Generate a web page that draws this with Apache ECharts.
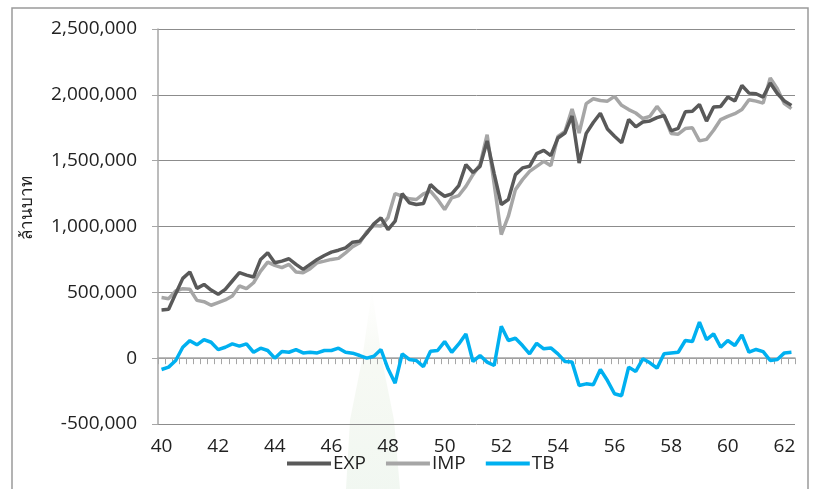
<!DOCTYPE html>
<html>
<head>
<meta charset="utf-8">
<script src="https://cdn.jsdelivr.net/npm/echarts@6/dist/echarts.min.js"></script>
<style>
html,body{margin:0;padding:0;background:#fff;}
#chart{width:813px;height:489px;}
</style>
</head>
<body>
<div id="chart"></div>
<script>
// Quarterly categories (Thai fiscal years 40 - 62)
const categories = [
 '40Q1','40Q2','40Q3','40Q4','41Q1','41Q2','41Q3','41Q4','42Q1','42Q2','42Q3','42Q4',
 '43Q1','43Q2','43Q3','43Q4','44Q1','44Q2','44Q3','44Q4','45Q1','45Q2','45Q3','45Q4',
 '46Q1','46Q2','46Q3','46Q4','47Q1','47Q2','47Q3','47Q4','48Q1','48Q2','48Q3','48Q4',
 '49Q1','49Q2','49Q3','49Q4','50Q1','50Q2','50Q3','50Q4','51Q1','51Q2','51Q3','51Q4',
 '52Q1','52Q2','52Q3','52Q4','53Q1','53Q2','53Q3','53Q4','54Q1','54Q2','54Q3','54Q4',
 '55Q1','55Q2','55Q3','55Q4','56Q1','56Q2','56Q3','56Q4','57Q1','57Q2','57Q3','57Q4',
 '58Q1','58Q2','58Q3','58Q4','59Q1','59Q2','59Q3','59Q4','60Q1','60Q2','60Q3','60Q4',
 '61Q1','61Q2','61Q3','61Q4','62Q1','62Q2'
];
const EXP = [
 366000,371000,490000,606000,655000,530000,560000,517000,485000,523000,586000,649000,
 631000,616000,750000,800000,725000,737000,755000,712000,674000,712000,750000,780000,
 805000,820000,838000,881000,889000,950000,1020000,1065000,977000,1040000,1250000,1180000,
 1167000,1174000,1318000,1268000,1230000,1248000,1311000,1470000,1410000,1457000,1650000,1400000,
 1167000,1205000,1394000,1445000,1457000,1553000,1578000,1538000,1672000,1710000,1840000,1482000,
 1707000,1790000,1860000,1740000,1685000,1636000,1812000,1757000,1794000,1802000,1827000,1843000,
 1727000,1746000,1871000,1875000,1927000,1800000,1908000,1912000,1983000,1953000,2071000,2013000,
 2008000,1983000,2090000,2010000,1953000,1920000
];
const IMP = [
 460000,452000,510000,528000,523000,439000,429000,402000,422000,442000,472000,548000,
 528000,573000,661000,730000,705000,687000,712000,654000,649000,680000,725000,737000,
 750000,758000,800000,846000,876000,960000,1008000,1003000,1068000,1250000,1230000,1210000,
 1205000,1248000,1268000,1205000,1129000,1217000,1235000,1305000,1394000,1470000,1697000,1320000,
 939000,1078000,1280000,1356000,1419000,1457000,1495000,1462000,1684000,1722000,1892000,1710000,
 1933000,1970000,1957000,1952000,1988000,1920000,1888000,1862000,1820000,1837000,1912000,1843000,
 1707000,1701000,1744000,1750000,1650000,1662000,1731000,1812000,1837000,1857000,1888000,1963000,
 1952000,1937000,2129000,2046000,1933000,1895000
];
const TB = [
 -86000,-68000,-18000,83000,133000,101000,141000,121000,65000,83000,108000,91000,
 108000,45000,76000,58000,0,50000,45000,65000,40000,45000,40000,58000,
 58000,76000,45000,38000,20000,0,15000,66000,-81000,-190000,33000,-10000,
 -18000,-64000,53000,58000,126000,45000,108000,184000,-25000,20000,-30000,-56000,
 242000,134000,151000,96000,33000,113000,71000,78000,33000,-25000,-30000,-207000,
 -195000,-202000,-86000,-170000,-270000,-285000,-68000,-101000,-5000,-35000,-76000,33000,
 40000,45000,134000,126000,273000,141000,184000,83000,134000,96000,177000,45000,
 66000,50000,-18000,-10000,40000,45000
];
const yTicks = { min: -500000, max: 2500000, interval: 500000 };
const yTitle = 'ล้านบาท';

const font = "'Open Sans', 'Noto Sans', sans-serif";
const chart = echarts.init(document.getElementById('chart'), null, {renderer: 'canvas'});
chart.setOption({
  animation: false,
  backgroundColor: '#ffffff',
  graphic: [
    {type: 'polygon', z: -10, silent: true,
     shape: {points: [[372, 290], [362, 360], [350, 420], [346, 489], [400, 489], [394, 420], [382, 360]]},
     style: {fill: new echarts.graphic.LinearGradient(0, 0, 0, 1, [
       {offset: 0, color: 'rgba(240,244,232,0)'},
       {offset: 0.35, color: 'rgba(236,242,230,0.45)'},
       {offset: 1, color: 'rgba(232,242,232,0.6)'}])}},
    {type: 'rect', z: -5, silent: true,
     shape: {x: 12, y: 8, width: 796, height: 495},
     style: {fill: 'none', stroke: '#9a9a9a', lineWidth: 1.5}},
    {type: 'text', x: 27, y: 208, rotation: Math.PI / 2,
     style: {text: yTitle, fill: '#222', font: "17px 'Noto Sans', 'Open Sans', sans-serif",
             align: 'center', verticalAlign: 'middle'}}
  ],
  grid: {left: 158, right: 18, top: 29, bottom: 65, containLabel: false},
  legend: {
    left: 282, top: 449,
    itemWidth: 44, itemHeight: 4, itemGap: 20,
    icon: 'rect',
    textStyle: {fontFamily: font, fontSize: 19, color: '#222', padding: [0, 0, 0, -3]},
    data: ['EXP', 'IMP', 'TB']
  },
  xAxis: {
    type: 'category',
    data: categories,
    boundaryGap: true,
    axisLine: {onZero: true, lineStyle: {color: '#a6a6a6', width: 1.5}},
    axisTick: {show: true, interval: 0, length: 6, lineStyle: {color: '#a6a6a6'}},
    axisLabel: {
      interval: function (i) { return i % 8 === 0; },
      formatter: function (v) { return v.slice(0, 2); },
      margin: 13, fontFamily: font, fontSize: 19, color: '#222'
    },
    splitLine: {show: false}
  },
  yAxis: {
    type: 'value',
    min: yTicks.min, max: yTicks.max, interval: yTicks.interval,
    axisLine: {show: true, lineStyle: {color: '#a6a6a6', width: 1.5}},
    axisTick: {show: true, length: 6, lineStyle: {color: '#a6a6a6'}},
    axisLabel: {
      margin: 21, fontFamily: font, fontSize: 19, color: '#222',
      formatter: function (v) { return v.toLocaleString('en-US'); }
    },
    splitLine: {show: true, lineStyle: {color: '#8c8c8c', width: 1}}
  },
  series: [
    {name: 'EXP', type: 'line', data: EXP, showSymbol: false, symbol: 'none',
     lineStyle: {color: '#595959', width: 3.5}, itemStyle: {color: '#595959'}, z: 3},
    {name: 'IMP', type: 'line', data: IMP, showSymbol: false, symbol: 'none',
     lineStyle: {color: '#a6a6a6', width: 3.5}, itemStyle: {color: '#a6a6a6'}, z: 2},
    {name: 'TB', type: 'line', data: TB, showSymbol: false, symbol: 'none',
     lineStyle: {color: '#00b0f0', width: 3.5}, itemStyle: {color: '#00b0f0'}, z: 4}
  ]
});
</script>
</body>
</html>
